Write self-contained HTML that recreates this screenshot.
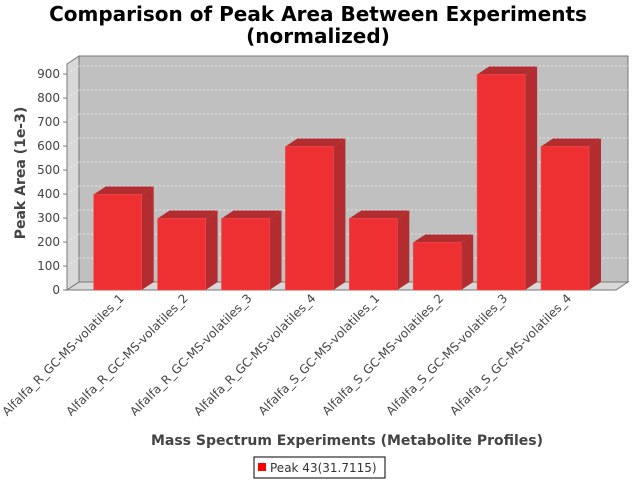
<!DOCTYPE html>
<html><head><meta charset="utf-8"><style>
body{margin:0;background:#fff}
svg text{font-family:"DejaVu Sans","Liberation Sans",sans-serif}
</style></head><body>
<svg id="chart" width="640" height="480" xmlns="http://www.w3.org/2000/svg">
<text x="318" y="21" font-size="20" font-weight="bold" text-anchor="middle" fill="#000">Comparison of Peak Area Between Experiments</text>
<text x="318" y="43" font-size="20" font-weight="bold" text-anchor="middle" fill="#000">(normalized)</text>
<polygon points="67,290 79,282 79,56 67,64" fill="#d8d8d8" stroke="#777" stroke-width="1"/>
<polygon points="67,290 79,282 628,282 616,290" fill="#d8d8d8" stroke="#777" stroke-width="1"/>
<rect x="79" y="56" width="549" height="226" fill="#c0c0c0" stroke="#777" stroke-width="1"/>
<g id="grid"></g>
<g id="yaxis"></g>
<g id="bars"></g>
<g id="xlabels"></g>
<text transform="translate(25,173) rotate(-90)" font-size="14" font-weight="bold" text-anchor="middle" fill="#444">Peak Area (1e-3)</text>
<text x="347" y="445" font-size="14" font-weight="bold" text-anchor="middle" fill="#444">Mass Spectrum Experiments (Metabolite Profiles)</text>
<g>
<rect x="254" y="457" width="131" height="21" fill="#fff" stroke="#000" stroke-width="1"/>
<rect x="258" y="463" width="8" height="8" fill="#ff0000"/>
<text x="270" y="472" font-size="12" fill="#333">Peak 43(31.7115)</text>
</g>
</svg>
<script>
const categories=["Alfalfa_R_GC-MS-volatiles_1","Alfalfa_R_GC-MS-volatiles_2","Alfalfa_R_GC-MS-volatiles_3","Alfalfa_R_GC-MS-volatiles_4","Alfalfa_S_GC-MS-volatiles_1","Alfalfa_S_GC-MS-volatiles_2","Alfalfa_S_GC-MS-volatiles_3","Alfalfa_S_GC-MS-volatiles_4"];
const values=[398,298,298,598,298,198,898,598];
const yTicks=[0,100,200,300,400,500,600,700,800,900];
const NS="http://www.w3.org/2000/svg";
const DX=12,DY=8;
function y(v){return 290-v*0.24;}
function xBar(i){return 93.7+63.9*i;}
const BW=48;
function mk(tag,attrs,parent){const e=document.createElementNS(NS,tag);for(const k in attrs)e.setAttribute(k,attrs[k]);parent.appendChild(e);return e;}
const grid=document.getElementById('grid'),ya=document.getElementById('yaxis'),bars=document.getElementById('bars'),xl=document.getElementById('xlabels');
yTicks.forEach(t=>{
  if(t>0){
    const g=mk('line',{x1:79,x2:628,y1:y(t)-DY,y2:y(t)-DY,stroke:'#f4f4f4','stroke-dasharray':'2,2','stroke-width':0.8},grid);
    
    
    const g2=mk('line',{x1:67,x2:79,y1:y(t),y2:y(t)-DY,stroke:'#f4f4f4','stroke-dasharray':'2,2','stroke-width':0.8},grid);
    
    
  }
  const tk=mk('line',{x1:63,x2:67,y1:y(t),y2:y(t),stroke:'#777'},ya);
  
  
  const tl=mk('text',{x:60,y:y(t)+4,'font-size':12,'text-anchor':'end',fill:'#444'},ya);
  
  
  tl.textContent=t;
});
const ax=mk('line',{x1:67,x2:67,y1:64,y2:290,stroke:'#777'},ya);


const xax=mk('line',{x1:67,x2:616,y1:290,y2:290,stroke:'#777'},ya);


values.forEach((v,i)=>{
  const x0=xBar(i),x1=x0+BW,yt=y(v),yb=290;
  const g=mk('g',{},bars);
  
  
  mk('polygon',{points:`${x1},${yb} ${x1+DX},${yb-DY} ${x1+DX},${yt-DY} ${x1},${yt}`,fill:'#b32d30'},g);
  mk('polygon',{points:`${x0},${yt} ${x0+DX},${yt-DY} ${x1+DX},${yt-DY} ${x1},${yt}`,fill:'#b32d30'},g);
  mk('rect',{x:x0,y:yt,width:BW,height:yb-yt,fill:'#ee3033',stroke:'#f05050','stroke-width':0.6},g);
  const cx=x0+BW/2;
  const t=mk('text',{transform:`translate(${cx+7},${299}) rotate(-45)`,'font-size':12,'text-anchor':'end',fill:'#444'},xl);
  
  
  t.textContent=categories[i];
});
</script>
</body></html>
